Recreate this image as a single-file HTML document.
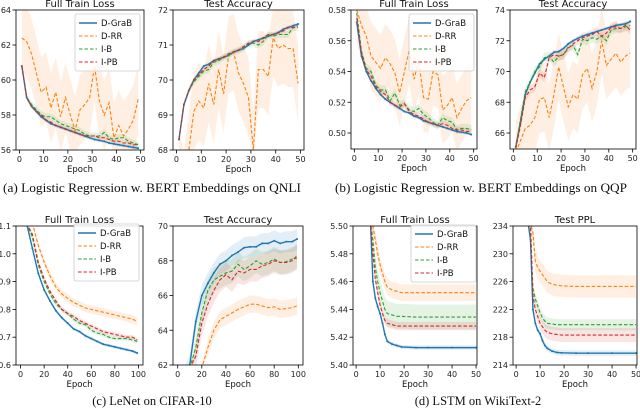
<!DOCTYPE html>
<html><head><meta charset="utf-8"><style>
html,body{margin:0;padding:0;background:#fff;width:640px;height:411px;overflow:hidden}
svg text{font-family:"DejaVu Sans","Liberation Sans",sans-serif}
svg text.cap{font-family:"Liberation Serif","DejaVu Serif",serif;font-size:12.5px}
</style></head><body>
<svg id="fig" width="640" height="411" viewBox="0 0 640 411" xmlns="http://www.w3.org/2000/svg" style="display:block;overflow:hidden"></svg>
<script>
// ---- data ----
const seriesNames = ["D-GraB","D-RR","I-B","I-PB"];
const seriesColors = ["#1f77b4","#ff7f0e","#2ca02c","#d62728"];
const epochsAB = [1,3,5,7,9,11,13,15,17,19,21,23,25,27,29,31,33,35,37,39,41,43,45,47,49];
const epochsC = [5,10,15,20,25,30,35,40,45,50,55,60,65,70,75,80,85,90,95,99];
const epochsD = [5,6,7,8,9,10,11,12,13,15,17,19,25,30,40,50];

const aLossBlue = [0.608,0.590,0.585,0.582,0.579,0.577,0.575,0.574,0.573,0.572,0.571,0.570,0.569,0.568,0.567,0.566,0.5655,0.565,0.564,0.5635,0.563,0.5625,0.562,0.5615,0.561];
const aLossOrange = [0.624,0.622,0.615,0.604,0.593,0.596,0.584,0.593,0.579,0.590,0.580,0.571,0.583,0.586,0.590,0.608,0.588,0.580,0.587,0.567,0.574,0.568,0.572,0.577,0.589];
const aLossGreen = [0.608,0.590,0.586,0.583,0.580,0.579,0.579,0.577,0.575,0.574,0.573,0.572,0.571,0.569,0.568,0.568,0.568,0.570,0.567,0.566,0.567,0.567,0.565,0.564,0.563];
const aLossRed = [0.608,0.590,0.585,0.582,0.580,0.577,0.576,0.574,0.573,0.572,0.571,0.570,0.569,0.568,0.568,0.568,0.567,0.567,0.566,0.565,0.565,0.564,0.564,0.563,0.563];
const aAccBlue = [68.3,69.3,69.7,70.0,70.2,70.4,70.45,70.55,70.6,70.65,70.7,70.8,70.85,70.9,71.0,71.1,71.15,71.2,71.25,71.3,71.35,71.45,71.5,71.55,71.6];
const aAccOrange = [67.5,66.8,68.0,69.1,69.4,69.2,69.9,69.3,70.3,69.6,70.7,70.8,70.2,69.9,69.5,68.0,70.3,70.3,70.1,71.2,70.9,71.0,70.9,70.9,69.9];
const aAccGreen = [68.3,69.3,69.7,69.95,70.1,70.25,70.3,70.5,70.55,70.65,70.7,70.8,70.85,70.9,71.05,71.05,71.0,71.1,71.3,71.25,71.3,71.3,71.3,71.5,71.5];
const aAccRed = [68.3,69.3,69.7,70.0,70.15,70.3,70.4,70.55,70.6,70.65,70.75,70.8,70.85,70.95,71.05,71.1,71.1,71.2,71.3,71.3,71.35,71.4,71.5,71.5,71.55];

const bLossBlue = [0.572,0.550,0.540,0.534,0.529,0.525,0.522,0.520,0.518,0.516,0.514,0.513,0.511,0.510,0.508,0.507,0.506,0.505,0.504,0.503,0.502,0.501,0.5005,0.500,0.499];
const bLossOrange = [0.580,0.570,0.563,0.550,0.546,0.542,0.549,0.545,0.539,0.526,0.540,0.554,0.535,0.547,0.523,0.522,0.540,0.538,0.515,0.518,0.523,0.510,0.516,0.521,0.523];
const bLossGreen = [0.578,0.553,0.542,0.540,0.531,0.528,0.528,0.521,0.526,0.518,0.519,0.515,0.514,0.516,0.512,0.510,0.507,0.505,0.510,0.508,0.507,0.502,0.503,0.503,0.502];
const bLossRed = [0.575,0.552,0.541,0.537,0.530,0.527,0.525,0.520,0.518,0.517,0.519,0.514,0.512,0.511,0.509,0.507,0.506,0.505,0.506,0.505,0.503,0.502,0.502,0.501,0.501];
const bAccBlue = [65.1,66.7,68.5,69.3,69.9,70.5,70.8,71.0,71.25,71.3,71.5,71.8,72.0,72.15,72.3,72.4,72.5,72.6,72.7,72.8,72.9,73.0,73.05,73.1,73.25];
const bAccOrange = [64.5,65.5,66.3,66.5,67.0,68.2,68.3,67.0,68.5,70.3,69.0,67.7,68.5,68.2,69.8,70.2,68.9,70.0,72.0,70.4,70.8,71.2,70.6,71.0,71.2];
const bAccGreen = [65.1,66.9,68.7,69.3,70.0,70.3,70.9,71.0,70.6,71.0,71.1,71.6,71.7,71.1,72.1,72.0,72.2,72.1,72.3,72.0,72.7,72.8,72.8,72.9,73.0];
const bAccRed = [65.0,66.5,68.3,68.8,69.0,69.9,69.6,70.9,71.1,71.0,71.1,71.5,71.8,72.0,72.2,72.3,72.4,72.6,72.3,72.5,72.9,72.9,72.8,73.0,72.7];

const cLossBlue = [1.2,1.02,0.93,0.87,0.83,0.795,0.77,0.75,0.73,0.72,0.705,0.695,0.685,0.675,0.67,0.665,0.66,0.655,0.65,0.643];
const cLossOrange = [1.3,1.12,1.03,0.97,0.92,0.88,0.855,0.84,0.825,0.815,0.805,0.80,0.795,0.79,0.785,0.78,0.775,0.77,0.765,0.757];
const cLossGreen = [1.25,1.06,0.96,0.90,0.855,0.82,0.80,0.785,0.765,0.75,0.745,0.725,0.715,0.71,0.70,0.695,0.695,0.695,0.69,0.685];
const cLossRed = [1.25,1.07,0.97,0.91,0.865,0.83,0.80,0.785,0.775,0.76,0.75,0.74,0.73,0.72,0.715,0.71,0.705,0.70,0.70,0.69];
const cAccBlue = [58,62,64.5,66,66.7,67.3,67.8,68.0,68.3,68.5,68.75,68.8,68.8,69.0,69.0,69.15,69.0,69.1,69.1,69.25];
const cAccOrange = [55,57,59,61.5,63,64,64.6,64.8,65.0,65.2,65.35,65.5,65.5,65.4,65.3,65.35,65.2,65.25,65.3,65.4];
const cAccGreen = [58,60,63,65,66.3,66.9,67.1,67.3,67.4,67.8,67.5,67.7,68.0,67.8,67.9,68.1,67.9,67.95,68.1,68.15];
const cAccRed = [57.5,59.5,62.5,64.4,65.5,66.3,66.9,67.2,66.9,67.4,67.3,67.5,67.5,67.7,67.8,68.0,67.9,67.9,68.0,68.3];

const dLossBlue = [5.60,5.52,5.46,5.448,5.442,5.437,5.43,5.422,5.417,5.415,5.414,5.413,5.4125,5.4125,5.4125,5.4125];
const dLossOrange = [5.62,5.55,5.50,5.49,5.48,5.472,5.466,5.46,5.456,5.454,5.453,5.452,5.452,5.452,5.452,5.452];
const dLossGreen = [5.61,5.53,5.49,5.47,5.46,5.452,5.446,5.440,5.437,5.436,5.435,5.435,5.4345,5.4345,5.4345,5.4345];
const dLossRed = [5.61,5.53,5.48,5.462,5.452,5.443,5.437,5.432,5.43,5.429,5.428,5.428,5.428,5.428,5.428,5.428];
const dPplBlue = [240,232,222,220,219,218.5,217.5,216.8,216.4,216.0,215.8,215.75,215.7,215.7,215.7,215.7];
const dPplOrange = [245,238,233,229,228,227.5,227,226.5,226,225.6,225.5,225.4,225.3,225.3,225.3,225.3];
const dPplGreen = [242,234,225,223.5,222.5,221.5,220.8,220.3,220,219.9,219.8,219.8,219.8,219.8,219.8,219.8];
const dPplRed = [242,234,224,222,221,220,219.5,219,218.7,218.5,218.4,218.3,218.3,218.3,218.3,218.3];

// band half-widths per series [blue, orange, green, red]
const aLossSpread = [0.001,0.02,0.002,0.001];
const aAccSpread = [0.05,1.1,0.1,0.06];
const bLossSpread = [0.001,0.022,0.003,0.002];
const bAccSpread = [0.1,2.2,0.3,0.3];
const cLossSpread = [0.006,0.015,0.008,0.008];
const cAccSpread = [0.6,0.5,0.7,0.7];
const dLossSpread = [0.0015,0.006,0.009,0.003];
const dPplSpread = [0.4,1.6,0.8,1.0];

const ticks50 = [0,10,20,30,40,50];
const ticks100 = [0,20,40,60,80,100];
const aLossTicks = [0.56,0.58,0.60,0.62,0.64];
const aAccTicks = [68,69,70,71,72];
const bLossTicks = [0.50,0.52,0.54,0.56,0.58];
const bAccTicks = [66,68,70,72,74];
const cLossTicks = [0.6,0.7,0.8,0.9,1.0,1.1];
const cAccTicks = [62,64,66,68,70];
const dLossTicks = [5.40,5.42,5.44,5.46,5.48,5.50];
const dPplTicks = [214,218,222,226,230,234];

// ---- drawing ----
const NS = "http://www.w3.org/2000/svg";
const fig = document.getElementById("fig");
let clipId = 0;
function mk(tag, attrs, parent){
  const e = document.createElementNS(NS, tag);
  for (const k in attrs) e.setAttribute(k, attrs[k]);
  (parent||fig).appendChild(e);
  return e;
}
function panel(p){
  const g = mk("g", {});
  
  
  const sx = v => p.x0 + (v - p.xlim[0]) / (p.xlim[1]-p.xlim[0]) * (p.x1-p.x0);
  const syRaw = v => p.y1 - (v - p.ylim[0]) / (p.ylim[1]-p.ylim[0]) * (p.y1-p.y0);
  const sy = v => Math.max(p.y0 - 3, Math.min(p.y1 + 3, syRaw(v)));
  const cid = "clip" + (clipId++);
  const cp = mk("clipPath", {id: cid}, g);
  mk("rect", {x:p.x0, y:p.y0, width:p.x1-p.x0, height:p.y1-p.y0}, cp);
  const plot = mk("g", {"clip-path":"url(#"+cid+")"}, g);
  p.series.forEach((s, i) => {
    let d = "";
    p.xs.forEach((x, j) => { d += (j?"L":"M") + sx(x).toFixed(2) + "," + sy(s[j]+p.spread[i]).toFixed(2); });
    for (let j = p.xs.length-1; j >= 0; j--) d += "L" + sx(p.xs[j]).toFixed(2) + "," + sy(s[j]-p.spread[i]).toFixed(2);
    const band = mk("path", {d: d+"Z", fill: seriesColors[i], opacity: 0.12, stroke:"none"}, plot);
    
    
  });
  p.series.forEach((s, i) => {
    const pts = p.xs.map((x, j) => sx(x).toFixed(2) + "," + sy(s[j]).toFixed(2)).join(" ");
    const ln = mk("polyline", {points: pts, fill:"none", stroke: seriesColors[i], "stroke-width": i===0?1.4:1.1, "stroke-dasharray": i===0?"none":"3.5,2"}, plot);
    
    
    if (i===0) p.xs.forEach((x, j) => {
      const c = mk("circle", {cx: sx(x), cy: sy(s[j]), r: 1, fill: seriesColors[0]}, plot);
      
      
    });
  });
  const fr = mk("rect", {x:p.x0, y:p.y0, width:p.x1-p.x0, height:p.y1-p.y0, fill:"none", stroke:"#000", "stroke-width":0.8}, g);
  
  
  p.xticks.forEach(t => {
    const x = sx(t);
    mk("line", {x1:x, x2:x, y1:p.y1, y2:p.y1+3.5, stroke:"#000", "stroke-width":0.8}, g);
    const tl = mk("text", {x:x, y:p.y1+12, "font-size":8, "text-anchor":"middle", fill:"#222"}, g);
    tl.textContent = t;
    
    
  });
  p.yticks.forEach(t => {
    const y = syRaw(t);
    mk("line", {x1:p.x0-3.5, x2:p.x0, y1:y, y2:y, stroke:"#000", "stroke-width":0.8}, g);
    const tl = mk("text", {x:p.x0-5, y:y+3, "font-size":8, "text-anchor":"end", fill:"#222"}, g);
    tl.textContent = t.toFixed(p.dec);
    
    
  });
  const ti = mk("text", {x:(p.x0+p.x1)/2, y:p.y0-3, "font-size":10, "text-anchor":"middle", fill:"#111"}, g);
  ti.textContent = p.title;
  
  
  const xl = mk("text", {x:(p.x0+p.x1)/2, y:p.y1+22, "font-size":8.5, "text-anchor":"middle", fill:"#111"}, g);
  xl.textContent = "Epoch";
  
  
  if (p.legend) {
    const [lx, ly] = p.legend;
    const lg = mk("g", {}, g);
    
    
    mk("rect", {x:lx, y:ly, width:65, height:57, rx:2, fill:"#fff", "fill-opacity":0.85, stroke:"#ccc", "stroke-width":0.8}, lg);
    seriesNames.forEach((n, i) => {
      const yy = ly + 9 + i*13;
      const ll = mk("line", {x1:lx+4, x2:lx+22, y1:yy, y2:yy, stroke:seriesColors[i], "stroke-width":i===0?1.4:1.1, "stroke-dasharray": i===0?"none":"3.5,2"}, lg);
      
      
      const lt = mk("text", {x:lx+26, y:yy+3, "font-size":8.5, fill:"#111"}, lg);
      lt.textContent = n;
      
      
    });
  }
}
const xlAB = [-1.4, 51.4], xlC = [-3.9, 103.9], xlD = [-1.3, 50.4];
panel({name:"qnli-train-loss", x0:16,x1:144,y0:10,y1:150, xlim:xlAB, ylim:[0.56,0.64], xs:epochsAB, series:[aLossBlue,aLossOrange,aLossGreen,aLossRed], spread:aLossSpread, xticks:ticks50, yticks:aLossTicks, dec:2, title:"Full Train Loss", legend:[75,14]});
panel({name:"qnli-test-accuracy", x0:173,x1:304,y0:10,y1:150, xlim:xlAB, ylim:[68,72], xs:epochsAB, series:[aAccBlue,aAccOrange,aAccGreen,aAccRed], spread:aAccSpread, xticks:ticks50, yticks:aAccTicks, dec:0, title:"Test Accuracy"});
panel({name:"qqp-train-loss", x0:351,x1:477,y0:10,y1:149, xlim:xlAB, ylim:[0.4896,0.58], xs:epochsAB, series:[bLossBlue,bLossOrange,bLossGreen,bLossRed], spread:bLossSpread, xticks:ticks50, yticks:bLossTicks, dec:2, title:"Full Train Loss", legend:[409,14]});
panel({name:"qqp-test-accuracy", x0:510,x1:636,y0:10,y1:149, xlim:xlAB, ylim:[64.96,74], xs:epochsAB, series:[bAccBlue,bAccOrange,bAccGreen,bAccRed], spread:bAccSpread, xticks:ticks50, yticks:bAccTicks, dec:0, title:"Test Accuracy"});
panel({name:"cifar-train-loss", x0:16,x1:143,y0:226,y1:365, xlim:xlC, ylim:[0.6,1.1], xs:epochsC, series:[cLossBlue,cLossOrange,cLossGreen,cLossRed], spread:cLossSpread, xticks:ticks100, yticks:cLossTicks, dec:1, title:"Full Train Loss", legend:[74,224]});
panel({name:"cifar-test-accuracy", x0:173,x1:303,y0:226,y1:365, xlim:xlC, ylim:[62,70], xs:epochsC, series:[cAccBlue,cAccOrange,cAccGreen,cAccRed], spread:cAccSpread, xticks:ticks100, yticks:cAccTicks, dec:0, title:"Test Accuracy"});
panel({name:"wikitext-train-loss", x0:353,x1:477,y0:226,y1:365, xlim:xlD, ylim:[5.40,5.50], xs:epochsD, series:[dLossBlue,dLossOrange,dLossGreen,dLossRed], spread:dLossSpread, xticks:ticks50, yticks:dLossTicks, dec:2, title:"Full Train Loss", legend:[411,225]});
panel({name:"wikitext-test-ppl", x0:513,x1:637,y0:226,y1:365, xlim:xlD, ylim:[214,234], xs:epochsD, series:[dPplBlue,dPplOrange,dPplGreen,dPplRed], spread:dPplSpread, xticks:ticks50, yticks:dPplTicks, dec:0, title:"Test PPL"});

const caps = [[152,192,"(a) Logistic Regression w. BERT Embeddings on QNLI",298],[481,192,"(b) Logistic Regression w. BERT Embeddings on QQP",292],[152,405,"(c) LeNet on CIFAR-10",0],[478,405,"(d) LSTM on WikiText-2",0]];
caps.forEach(c => {
  const attrs = {x:c[0], y:c[1], "text-anchor":"middle", "class":"cap", fill:"#111"};
  if (c[3]) { attrs.textLength = c[3]; attrs.lengthAdjust = "spacingAndGlyphs"; }
  const t = mk("text", attrs);
  t.textContent = c[2];
  
  
});
</script>
</body></html>
